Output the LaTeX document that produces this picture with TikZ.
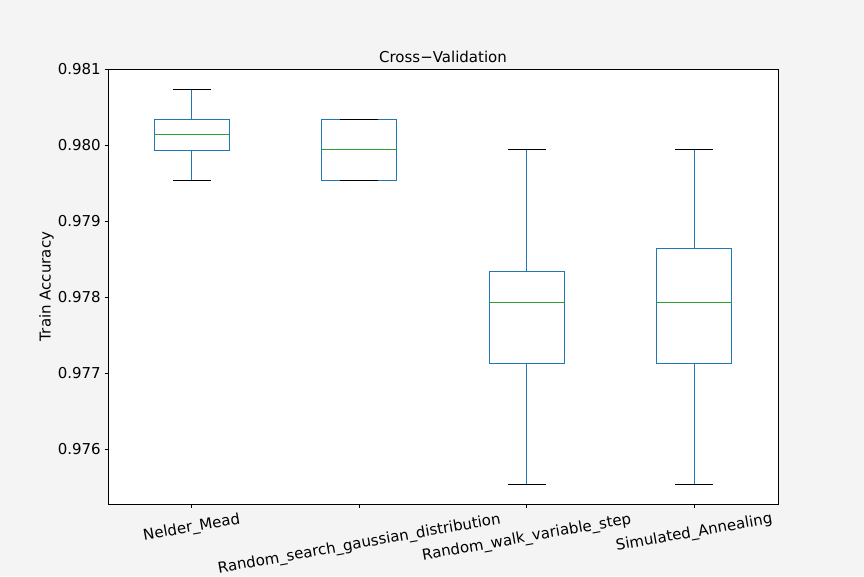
\documentclass[tikz,border=0pt]{standalone}
\usepackage{fontspec}
\setmainfont{DejaVu Sans}
\definecolor{figbg}{RGB}{244,244,244}
\definecolor{mplblue}{HTML}{1F77B4}
\definecolor{mplgreen}{HTML}{2CA02C}
\tikzset{
  boxline/.style={draw=mplblue, line width=1pt},
  medline/.style={draw=mplgreen, line width=1pt},
  capline/.style={draw=black, line width=1pt},
  spine/.style={draw=black, line width=0.8pt},
  ticklab/.style={inner sep=0pt, font=\fontsize{15}{18}\selectfont},
  xlab/.style={ticklab, rotate=10, anchor=center},
  axlab/.style={inner sep=0pt, font=\fontsize{15}{18}\selectfont}
}
\begin{document}
\begin{tikzpicture}[x=1pt, y=-1pt]
\fill[figbg] (0,0) rectangle (864,576);
\useasboundingbox (0,0) rectangle (864,576);
\fill[white] (108,69) rectangle (778,504);
% box plots: center, whisker top, box top, median, box bottom, whisker bottom
\foreach \cx/\wt/\bt/\md/\bb/\wb in {191.75/89.3/119.3/134.3/150/180,
                                     359.25/119.3/119.3/149.3/180.3/180.3,
                                     526.75/149.3/271.3/302.3/363.3/484,
                                     694.25/149.3/248.3/302.3/363.3/484}{
  \draw[boxline] (\cx,\wt) -- (\cx,\bt);
  \draw[boxline] (\cx,\bb) -- (\cx,\wb);
  \draw[boxline] (\cx-37.7,\bt) rectangle (\cx+37.7,\bb);
  \draw[medline] (\cx-37.7,\md) -- (\cx+37.7,\md);
  \draw[capline] (\cx-18.85,\wt) -- (\cx+18.85,\wt);
  \draw[capline] (\cx-18.85,\wb) -- (\cx+18.85,\wb);
}
% spines
\draw[spine] (108,69) rectangle (778,504);
% y ticks
\foreach \yy/\lab [count=\i] in {69.3/0.981, 145.3/0.980, 221.3/0.979, 297.3/0.978, 373.3/0.977, 449.3/0.976}{
  \draw[spine] (104.5,\yy) -- (108,\yy);
  \node[ticklab, anchor=east] (ytick\i) at (101,\yy) {\lab};
}
% x ticks
\foreach \xx in {191.75, 359.25, 526.75, 694.25}{
  \draw[spine] (\xx,504) -- (\xx,507.5);
}
\node[xlab] (xl1) at (191.75,528) {Nelder\_Mead};
\node[xlab] (xl2) at (359.25,544.5) {Random\_search\_gaussian\_distribution};
\node[xlab] (xl3) at (526.75,538) {Random\_walk\_variable\_step};
\node[xlab] (xl4) at (694.25,533) {Simulated\_Annealing};
% title and y label
\node[axlab, anchor=base] (title) at (443,62.7) {Cross−Validation};
\node[axlab, rotate=90, anchor=base] (ylabel) at (50.7,286.5) {Train Accuracy};
\end{tikzpicture}
\end{document}
